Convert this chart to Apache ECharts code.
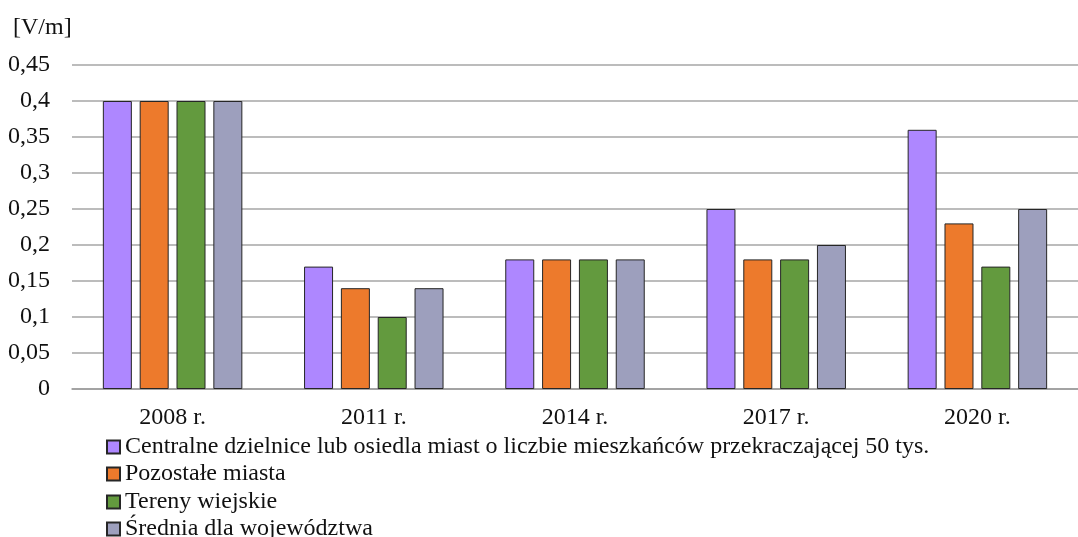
<!DOCTYPE html>
<html>
<head>
<meta charset="utf-8">
<script src="https://cdn.jsdelivr.net/npm/echarts@6/dist/echarts.min.js"></script>
<style>
  html, body { margin: 0; padding: 0; background: #fff; }
  #chart { width: 1078px; height: 537px; }
</style>
</head>
<body>
<div id="chart"></div>
<script>
const years = ['2008 r.', '2011 r.', '2014 r.', '2017 r.', '2020 r.'];
const centralne = [0.4, 0.17, 0.18, 0.25, 0.36];
const pozostale = [0.4, 0.14, 0.18, 0.18, 0.23];
const wiejskie = [0.4, 0.10, 0.18, 0.18, 0.17];
const srednia = [0.4, 0.14, 0.18, 0.20, 0.25];
const seriesNames = [
  'Centralne dzielnice lub osiedla miast o liczbie mieszkańców przekraczającej 50 tys.',
  'Pozostałe miasta',
  'Tereny wiejskie',
  'Średnia dla województwa',
];

const FONT = 'Liberation Serif';
const colors = ['#AE87FF', '#ED7A2C', '#639A3E', '#9D9FBD'];
// vertical centre of each legend row in the reference
const legendRows = [447, 474, 502, 529];

const chart = echarts.init(document.getElementById('chart'));

const makeBar = (name, data, index) => ({
  name,
  type: 'bar',
  data,
  barWidth: 29,
  barGap: '27%',
  itemStyle: {
    color: colors[index],
    borderColor: '#262626',
    borderWidth: 1,
  },
});

// one legend per row, the stacked list does not fit in the space below the axis
const makeLegend = (name, index) => ({
  orient: 'vertical',
  left: 106,
  top: legendRows[index] - 12,
  padding: 0,
  icon: 'rect',
  itemWidth: 13,
  itemHeight: 13,
  selectedMode: false,
  textStyle: {
    fontFamily: FONT,
    fontSize: 24,
    color: '#111',
  },
  data: [name],
});

chart.setOption({
  animation: false,
  title: {
    text: '[V/m]',
    left: 8,
    top: 11,
    textStyle: {
      fontFamily: FONT,
      fontSize: 24,
      fontWeight: 'normal',
      color: '#111',
    },
  },
  grid: {
    left: 72,
    right: -12,
    top: 65,
    bottom: 148,
  },
  legend: seriesNames.map(makeLegend),
  xAxis: {
    type: 'category',
    data: years,
    axisLine: { lineStyle: { color: '#9a9a9a', width: 1.5 } },
    axisTick: { show: false },
    axisLabel: {
      fontFamily: FONT,
      fontSize: 24,
      color: '#111',
      margin: 17,
    },
  },
  yAxis: {
    type: 'value',
    min: 0,
    max: 0.45,
    interval: 0.05,
    axisLine: { show: false },
    axisTick: { show: false },
    splitLine: { lineStyle: { color: '#a6a6a6', width: 1.5 } },
    axisLabel: {
      fontFamily: FONT,
      fontSize: 24,
      color: '#111',
      margin: 22,
      formatter: (value) => String(parseFloat(value.toFixed(2))).replace('.', ','),
    },
  },
  series: [
    makeBar(seriesNames[0], centralne, 0),
    makeBar(seriesNames[1], pozostale, 1),
    makeBar(seriesNames[2], wiejskie, 2),
    makeBar(seriesNames[3], srednia, 3),
  ],
});
</script>
</body>
</html>
